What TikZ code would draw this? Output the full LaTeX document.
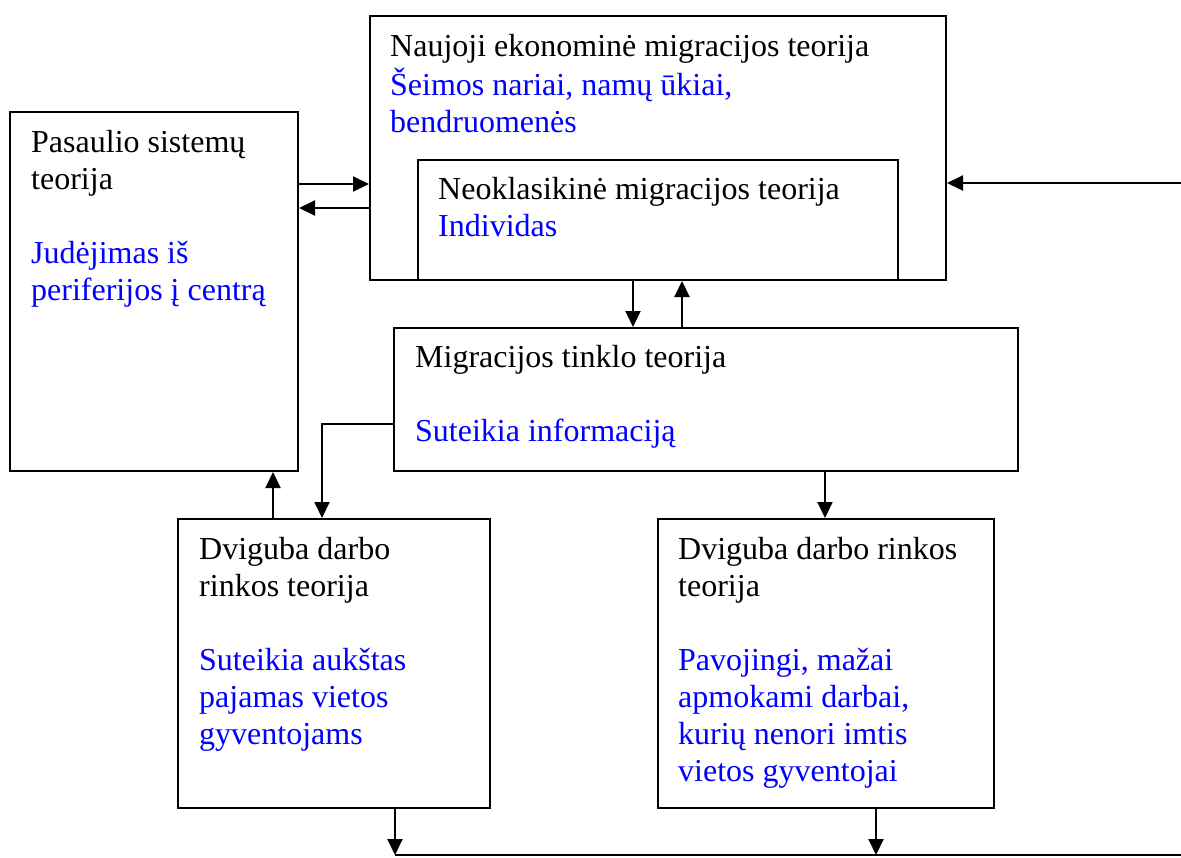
\documentclass[tikz,border=0pt]{standalone}
\usepackage{fontspec}
\setmainfont{Liberation Serif}
\usetikzlibrary{arrows.meta}
\begin{document}
\begin{tikzpicture}[x=1pt,y=-1pt,
  box/.style={draw, line width=2pt, inner sep=0pt},
  txt/.style={anchor=north west, inner sep=0pt, align=left, font=\fontsize{32}{37}\selectfont},
  arr/.style={line width=2pt, -{Triangle[length=16pt,width=15pt]}},
  ln/.style={line width=2pt}]
\useasboundingbox (0,0) rectangle (1181,857);
% boxes
\node[box, minimum width=576pt, minimum height=264pt] (nem) at (658,148) {};
\node[box, minimum width=480pt, minimum height=120pt] (neo) at (658,220) {};
\node[box, minimum width=288pt, minimum height=359pt] (ps) at (154,291.5) {};
\node[box, minimum width=624pt, minimum height=143pt] (mt) at (706,399.5) {};
\node[box, minimum width=312pt, minimum height=289pt] (dl) at (334,663.5) {};
\node[box, minimum width=336pt, minimum height=289pt] (dr) at (826,663.5) {};
% texts
\node[txt] (tnem) at (390,30) {\strut Naujoji ekonominė migracijos teorija\\
  \textcolor{blue}{Šeimos nariai, namų ūkiai,}\\
  \textcolor{blue}{bendruomenės}};
\node[txt] (tneo) at (438,173) {\strut Neoklasikinė migracijos teorija\\
  \textcolor{blue}{Individas}};
\node[txt] (tps) at (31,126) {\strut Pasaulio sistemų\\ teorija\\[37pt]
  \textcolor{blue}{Judėjimas iš}\\
  \textcolor{blue}{periferijos į centrą}};
\node[txt] (tmt) at (415,341) {\strut Migracijos tinklo teorija\\[37pt]
  \textcolor{blue}{Suteikia informaciją}};
\node[txt] (tdl) at (199,533) {\strut Dviguba darbo\\ rinkos teorija\\[37pt]
  \textcolor{blue}{Suteikia aukštas}\\
  \textcolor{blue}{pajamas vietos}\\
  \textcolor{blue}{gyventojams}};
\node[txt] (tdr) at (678,533) {\strut Dviguba darbo rinkos\\ teorija\\[37pt]
  \textcolor{blue}{Pavojingi, mažai}\\
  \textcolor{blue}{apmokami darbai,}\\
  \textcolor{blue}{kurių nenori imtis}\\
  \textcolor{blue}{vietos gyventojai}};
% connectors
\draw[arr] (ps.east |- 0,184) -- (nem.west |- 0,184);
\draw[arr] (nem.west |- 0,208) -- (ps.east |- 0,208);
\draw[arr] (nem.south -| 633,0) -- (mt.north -| 633,0);
\draw[arr] (mt.north -| 682,0) -- (nem.south -| 682,0);
\coordinate (k1) at (322,424);
\draw[arr] (mt.west |- k1) -- (k1) -- (dl.north -| k1);
\draw[arr] (dl.north -| 273,0) -- (ps.south -| 273,0);
\draw[arr] (mt.south -| 825,0) -- (dr.north -| 825,0);
\coordinate (b1) at (395,855);
\coordinate (b2) at (876,855);
\coordinate (bend) at (1197,855);
\draw[arr] (dl.south -| b1) -- (b1);
\draw[arr] (dr.south -| b2) -- (b2);
\draw[arr] (b1) -- (bend);
\coordinate (rin) at (1190,183);
\draw[arr] (rin) -- (nem.east |- rin);
\end{tikzpicture}
\end{document}
